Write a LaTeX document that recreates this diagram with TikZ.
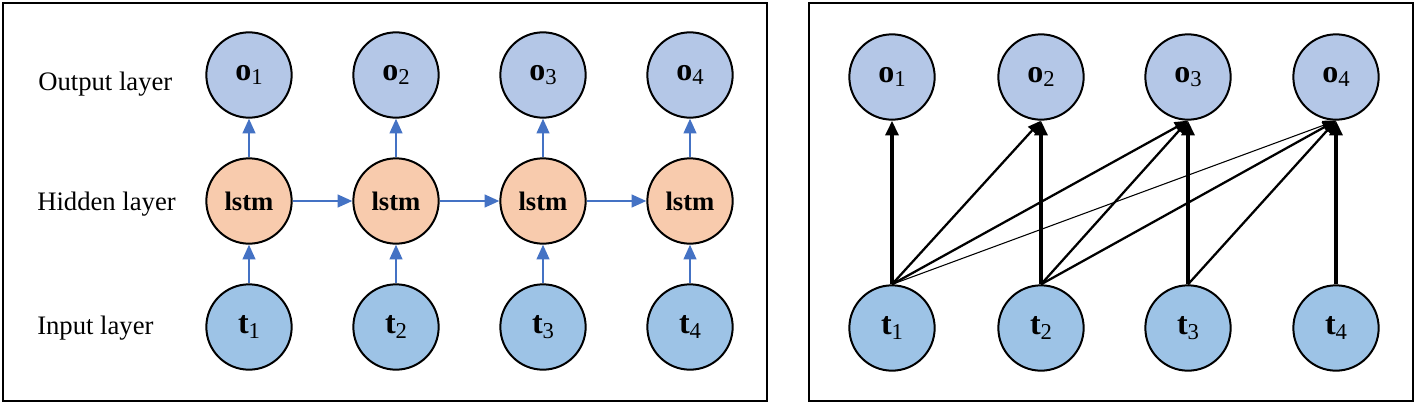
\documentclass[tikz,border=0pt]{standalone}
\usepackage{fontspec}
\setmainfont{Liberation Serif}
\usetikzlibrary{arrows.meta}
\definecolor{obl}{HTML}{B4C7E7}
\definecolor{tbl}{HTML}{9DC3E6}
\definecolor{lor}{HTML}{F8CBAD}
\definecolor{arb}{HTML}{4472C4}
\newcommand{\vlab}[2]{{\fontsize{24}{24}\selectfont\bfseries #1}\raisebox{-3.5pt}{\fontsize{17}{17}\selectfont #2}}
\tikzset{
  neuron/.style={circle, draw=black, line width=1.5pt, minimum size=64pt, inner sep=0pt},
  onode/.style={neuron, fill=obl},
  tnode/.style={neuron, fill=tbl},
  hnode/.style={neuron, fill=lor, font=\fontsize{20}{20}\selectfont\bfseries},
  layerlab/.style={anchor=base west, inner sep=0pt, font=\fontsize{20}{20}\selectfont},
  panel/.style={draw=black, line width=1.3pt},
  blarrow/.style={draw=arb, line width=1.6pt, -{Triangle[length=11pt,width=9.5pt]}},
  thick arrow/.style={draw=black, line width=3pt, -{Triangle[length=11pt,width=9.5pt]}},
  mid arrow/.style={draw=black, line width=1.7pt, -{Triangle[length=10pt,width=8pt]}},
  thin arrow/.style={draw=black, line width=0.8pt, -{Triangle[length=10pt,width=7pt]}}
}
\begin{document}
\begin{tikzpicture}[x=0.75pt, y=-0.75pt]
\useasboundingbox (0,0) rectangle (1416,404);
% panels
\draw[panel] (3,3) rectangle (767,401);
\draw[panel] (809,3) rectangle (1413,401);
% left labels
\node[layerlab] (labO) at (38,90) {Output layer};
\node[layerlab] (labH) at (37,210) {Hidden layer};
\node[layerlab] (labI) at (37,334) {Input layer};
% left nodes
\foreach \i/\x in {1/249, 2/396, 3/543, 4/690} {
  \node[onode] (lo\i) at (\x,75) {\vlab{o}{\i}};
  \node[hnode] (lh\i) at (\x,201) {lstm};
  \node[tnode] (lt\i) at (\x,327) {\vlab{t}{\i}};
}
\foreach \i in {1,2,3,4} {
  \draw[blarrow] (lh\i.north) -- (lo\i.south);
  \draw[blarrow] (lt\i.north) -- (lh\i.south);
}
\draw[blarrow] (lh1.east) -- (lh2.west);
\draw[blarrow] (lh2.east) -- (lh3.west);
\draw[blarrow] (lh3.east) -- (lh4.west);
% right nodes
\foreach \i/\x in {1/892, 2/1041, 3/1188, 4/1336} {
  \node[onode] (ro\i) at (\x,77) {\vlab{o}{\i}};
  \node[tnode] (rt\i) at (\x,328) {\vlab{t}{\i}};
}
\draw[thin arrow] (rt1.north) -- (ro4.south);
\draw[mid arrow] (rt1.north) -- (ro2.south);
\draw[mid arrow] (rt1.north) -- (ro3.south);
\draw[mid arrow] (rt2.north) -- (ro3.south);
\draw[mid arrow] (rt2.north) -- (ro4.south);
\draw[mid arrow] (rt3.north) -- (ro4.south);
\foreach \i in {1,2,3,4} {
  \draw[thick arrow] (rt\i.north) -- (ro\i.south);
}
\end{tikzpicture}
\end{document}
